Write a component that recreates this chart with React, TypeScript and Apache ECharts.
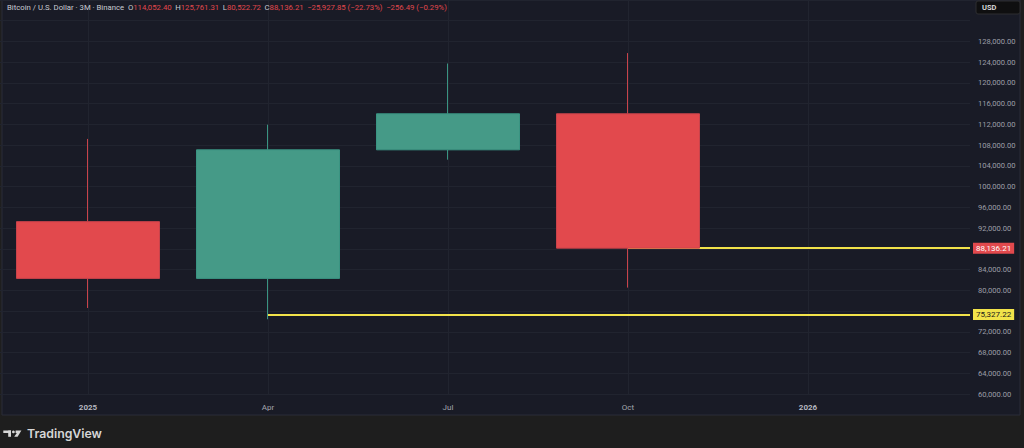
import React, { useEffect, useRef } from "react";
import * as echarts from "echarts";

// ---- data ----
const categories = ["2025", "Apr", "Jul", "Oct", "2026"];
const boldLabels = ["2025", "2026"];
const opens = [93250, 82300, 107100, 114052.4];
const closes = [82300, 107100, 114050, 88136.21];
const lows = [76590, 74420, 105200, 80522.72];
const highs = [109200, 111950, 123750, 125761.31];

const lastPrice = 88136.21;
const lastPriceStart = 3;
const levelPrice = 75327.22;
const levelStart = 1;

const yTicks = { min: 60000, max: 136000, interval: 4000 };
const yHiddenLabels = [88000, 76000];
const yTopLabel = 128000;
const xRange = { min: -0.4889, max: 4.9 };

const headerName = "Bitcoin / U.S. Dollar · 3M · Binance";
const headerChange = "−25,927.85 (−22.73%)";
const headerChange2 = "−256.49 (−0.29%)";

const GREEN = "#459a87";
const RED = "#e2494d";
const GREEN_WICK = "#3a9482";
const RED_WICK = "#c8434b";
const YELLOW = "#f2e34a";
const BG = "#191b26";
const FONT = "Roboto, 'Liberation Sans', sans-serif";

const fmt = (v: number) =>
  v.toLocaleString("en-US", { minimumFractionDigits: 2, maximumFractionDigits: 2 });

export default function App() {
  const ref = useRef<HTMLDivElement>(null);

  useEffect(() => {
    document.body.style.margin = "0";
    document.body.style.background = "#1e1e1e";
    if (!ref.current) return;
    const chart = echarts.init(ref.current, undefined, { renderer: "svg" });

    const candleData = opens.map((o, i) => [i, o, closes[i], lows[i], highs[i]]);
    const n = opens.length - 1;

    // header layout: fit between x=7 and x=447
    const pieces: { k: string; v: string }[] = [
      { k: headerName, v: "" },
      { k: "O", v: fmt(opens[n]) },
      { k: "H", v: fmt(highs[n]) },
      { k: "L", v: fmt(lows[n]) },
      { k: "C", v: fmt(closes[n]) },
      { k: "", v: headerChange },
      { k: "", v: headerChange2 },
    ];
    const ctx = document.createElement("canvas").getContext("2d")!;
    const base = 10;
    ctx.font = `${base}px ${FONT}`;
    const gapEm = 0.45;
    const widths = pieces.map((p) => ctx.measureText(p.k + p.v).width);
    const totalBase = widths.reduce((a, b) => a + b, 0) + gapEm * base * (pieces.length - 1);
    const fs = Math.min(9, (base * (447 - 7)) / totalBase);
    const hdrFont = `${fs.toFixed(2)}px ${FONT}`;
    let cx = 7;
    const hdrGraphics = pieces.map((p, i) => {
      const x = cx;
      cx += (widths[i] * fs) / base + gapEm * fs;
      const text = (p.k ? `{k|${p.k}}` : "") + (p.v ? `{v|${p.v}}` : "");
      return {
        type: "text",
        x,
        y: 3,
        z: 100,
        style: {
          text,
          font: hdrFont,
          rich: {
            k: { fill: "#c9cbd2", font: hdrFont },
            v: { fill: "#e0474c", font: hdrFont },
          },
        },
      };
    });

    const option: any = {
      animation: false,
      backgroundColor: "#1e1e1e",
      graphic: [
        {
          type: "rect",
          z: -10,
          silent: true,
          shape: { x: 2, y: 0, width: 1018, height: 415 },
          style: { fill: BG, stroke: "#2a2d38", lineWidth: 1 },
        },
        ...hdrGraphics,
        {
          type: "group",
          z: 100,
          children: [
            {
              type: "rect",
              shape: { x: 976, y: 1, width: 44, height: 13, r: 2 },
              style: { fill: "#0f0f10", stroke: "#2e2e30", lineWidth: 1 },
            },
            {
              type: "text",
              x: 982,
              y: 3.5,
              style: { text: "USD", fill: "#d8d8d8", font: `bold 7.5px ${FONT}` },
            },
          ],
        },
        // TradingView logo
        {
          type: "group",
          children: [
            { type: "rect", shape: { x: 3.3, y: 430.5, width: 7.7, height: 2.6 }, style: { fill: "#d6d6d6" } },
            { type: "rect", shape: { x: 8.2, y: 430.5, width: 2.8, height: 6.3 }, style: { fill: "#d6d6d6" } },
            { type: "circle", shape: { cx: 13.4, cy: 431.9, r: 1.4 }, style: { fill: "#d6d6d6" } },
            {
              type: "polygon",
              shape: { points: [[15.6, 430.5], [21.4, 430.5], [17.6, 436.8], [14.2, 436.8], [16.8, 433.1], [15.6, 433.1]] },
              style: { fill: "#d6d6d6" },
            },
            {
              type: "text",
              x: 27,
              y: 427.5,
              style: { text: "TradingView", fill: "#d6d6d6", font: `600 12.3px Inter, ${FONT}` },
            },
          ],
        },
      ],
      grid: { left: 0, right: 54, top: -4, bottom: 54 },
      xAxis: {
        type: "value",
        min: xRange.min,
        max: xRange.max,
        axisLine: { show: false },
        axisTick: { show: false, customValues: [0, 1, 2, 3, 4] },
        axisLabel: {
          customValues: [0, 1, 2, 3, 4],
          margin: 9,
          formatter: (v: number) => {
            const c = categories[Math.round(v)] ?? "";
            return boldLabels.includes(c) ? `{b|${c}}` : `{r|${c}}`;
          },
          rich: {
            b: { color: "#b6b8c0", fontWeight: "bold", fontSize: 8, fontFamily: FONT },
            r: { color: "#a4a6ae", fontSize: 8, fontFamily: FONT },
          },
        },
        splitLine: { show: true, lineStyle: { color: "#21242f", width: 1 } },
      },
      yAxis: {
        type: "value",
        position: "right",
        min: yTicks.min,
        max: yTicks.max,
        interval: yTicks.interval,
        axisLine: { show: false },
        axisTick: { show: false },
        axisLabel: {
          color: "#9c9ea6",
          fontSize: 7.6,
          fontFamily: FONT,
          margin: 8,
          formatter: (v: number) =>
            v > yTopLabel || yHiddenLabels.includes(v) ? "" : fmt(v),
        },
        splitLine: { show: true, lineStyle: { color: "#21242f", width: 1 } },
      },
      series: [
        {
          type: "candlestick",
          data: candleData,
          encode: { x: 0, y: [1, 2, 3, 4] },
          barWidth: 143,
          itemStyle: {
            color: GREEN,
            color0: RED,
            borderColor: GREEN_WICK,
            borderColor0: RED_WICK,
            borderWidth: 1,
          },
          markLine: {
            silent: true,
            symbol: "none",
            z: 1,
            lineStyle: { color: YELLOW, width: 2.2, type: "solid" },
            data: [
              [
                {
                  coord: [levelStart, levelPrice],
                  label: {
                    show: true,
                    position: "end",
                    distance: 3,
                    formatter: fmt(levelPrice),
                    color: "#1a1a1a",
                    backgroundColor: YELLOW,
                    padding: [2, 3, 1, 3],
                    fontSize: 8,
                    fontFamily: FONT,
                  },
                },
                { coord: [xRange.max, levelPrice] },
              ],
              [
                {
                  coord: [lastPriceStart, lastPrice],
                  label: {
                    show: true,
                    position: "end",
                    distance: 3,
                    formatter: fmt(lastPrice),
                    color: "#ffffff",
                    backgroundColor: RED,
                    padding: [2, 3, 1, 3],
                    fontSize: 8,
                    fontFamily: FONT,
                  },
                },
                { coord: [xRange.max, lastPrice] },
              ],
            ],
          },
        },
      ],
    };

    chart.setOption(option);
    return () => chart.dispose();
  }, []);

  return (
    <div
      ref={ref}
      style={{ position: "fixed", left: 0, top: 0, width: 1024, height: 448 }}
    />
  );
}
